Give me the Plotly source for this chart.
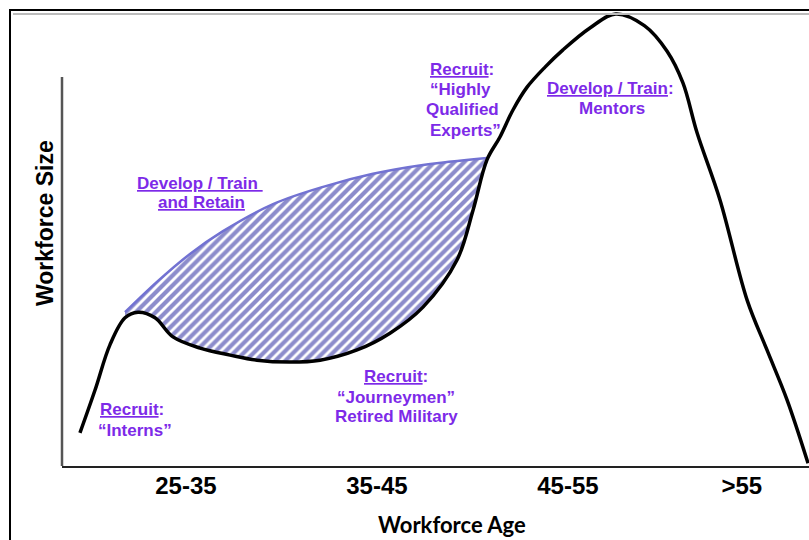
import plotly.graph_objects as go

# ---- data (age on x, relative workforce size on y) ----
curve_age = [24.45, 25.24, 26.02, 26.81, 27.49, 28.38, 29.32, 30.74, 32.31, 33.72, 35.45, 37.02,
             38.96, 40.68, 42.41, 44.19, 45.03, 45.76, 46.44, 47.12, 47.86, 48.80, 49.74, 51.15,
             52.50, 54.00, 55.19, 56.02, 56.76, 57.96, 59.38, 60.42, 61.47, 62.57]
curve_size = [7.1, 16.3, 26.0, 31.8, 33.0, 31.8, 27.7, 25.3, 23.8, 22.7, 22.3, 22.7,
              24.9, 28.5, 34.1, 44.2, 54.9, 65.7, 70.6, 76.4, 81.3, 85.6, 89.3, 94.0,
              97.0, 94.5, 89.0, 82.2, 71.5, 57.1, 35.6, 24.9, 14.2, 0.6]

gap_low_age = [26.81, 27.49, 28.38, 29.32, 30.74, 32.31, 33.72, 35.45, 37.02, 38.96, 40.68,
               42.41, 44.19, 45.03, 45.76]
gap_low_size = [31.8, 33.0, 31.8, 27.7, 25.3, 23.8, 22.7, 22.3, 22.7, 24.9, 28.5,
                34.1, 44.2, 54.9, 65.7]
gap_high_age = [26.81, 28.48, 30.21, 31.94, 34.56, 37.18, 39.79, 42.41, 45.76]
gap_high_size = [33.0, 39.5, 45.5, 50.4, 56.2, 59.9, 62.7, 64.6, 66.1]

tick_vals = [30, 40, 50, 59.1]
tick_text = ["25-35", "35-45", "45-55", ">55"]

PURPLE = "#7d2ae8"
notes = [
    # (text, age, size)
    ("<u>Recruit</u>:", 27.17, 12.2),
    ("\u201cInterns\u201d", 27.33, 7.7),
    ("<u>Develop / Train\u00a0</u>", 30.76, 60.7),
    ("<u>and Retain</u>", 30.81, 56.6),
    ("<u>Recruit</u>:", 41.00, 19.1),
    ("\u201cJourneymen\u201d", 41.00, 14.8),
    ("Retired Military", 41.00, 10.6),
    ("<u>Recruit</u>:", 44.45, 85.0),
    ("\u201cHighly", 44.35, 80.9),
    ("Qualified", 44.48, 76.4),
    ("Experts\u201d", 44.61, 72.1),
    ("<u>Develop / Train</u>:", 52.23, 81.1),
    ("Mentors", 52.28, 76.8),
]

fig = go.Figure()

# lower boundary of hatched gap (invisible)
fig.add_trace(go.Scatter(x=gap_low_age, y=gap_low_size, mode="lines",
                         line=dict(width=0, shape="spline", smoothing=1.0),
                         hoverinfo="skip", showlegend=False))
# upper boundary with hatch fill
fig.add_trace(go.Scatter(x=gap_high_age, y=gap_high_size, mode="lines", fill="tonexty",
                         line=dict(color="#7272d2", width=2.5, shape="spline", smoothing=1.0),
                         fillcolor="white",
                         fillpattern=dict(shape="/", fgcolor="#1a1a98", bgcolor="white",
                                          size=7, solidity=0.6),
                         hoverinfo="skip", showlegend=False))
# main workforce curve
fig.add_trace(go.Scatter(x=curve_age, y=curve_size, mode="lines",
                         line=dict(color="black", width=3.5, shape="spline", smoothing=1.0),
                         hoverinfo="skip", showlegend=False))

for txt, ax_, ay_ in notes:
    fig.add_annotation(x=ax_, y=ay_, xref="x", yref="y", text=txt, showarrow=False,
                       xanchor="center", yanchor="middle",
                       font=dict(family="Liberation Sans", size=17, color=PURPLE, weight="bold"))

# axis titles
fig.add_annotation(x=(452 - 62) / 747, y=(466 - 524) / 466, xref="paper", yref="paper",
                   text="Workforce Age", showarrow=False, xanchor="center", yanchor="middle",
                   font=dict(family="Lato", size=22, color="black", weight="bold"))
fig.add_annotation(x=(45 - 62) / 747, y=(466 - 223) / 466, xref="paper", yref="paper",
                   text="Workforce Size", showarrow=False, textangle=-90,
                   xanchor="center", yanchor="middle",
                   font=dict(family="Liberation Sans", size=23, color="black", weight="bold"))

shapes = [
    # y axis line (short)
    dict(type="line", xref="paper", yref="y", x0=0, x1=0, y0=0, y1=83.5,
         line=dict(color="#555555", width=2.5)),
    # slide frame
    dict(type="line", xref="paper", yref="paper", x0=(10 - 62) / 747, x1=(10 - 62) / 747,
         y0=(466 - 10) / 466, y1=(466 - 545) / 466, line=dict(color="black", width=2)),
    dict(type="line", xref="paper", yref="paper", x0=(9 - 62) / 747, x1=(815 - 62) / 747,
         y0=(466 - 10) / 466, y1=(466 - 10) / 466, line=dict(color="black", width=2)),
    dict(type="line", xref="paper", yref="paper", x0=(13 - 62) / 747, x1=(815 - 62) / 747,
         y0=(466 - 14) / 466, y1=(466 - 14) / 466, line=dict(color="#bbbbbb", width=2)),
]

fig.update_layout(
    width=809, height=540, autosize=False,
    margin=dict(l=62, r=0, t=0, b=74),
    paper_bgcolor="white", plot_bgcolor="white",
    showlegend=False, shapes=shapes,
    xaxis=dict(range=[23.51, 62.62], showgrid=False, zeroline=False,
               showline=True, linecolor="#222222", linewidth=2,
               tickvals=tick_vals, ticktext=tick_text, ticks="",
               tickfont=dict(family="Liberation Sans", size=24, color="black", weight="bold"),
               ticklabelstandoff=-3),
    yaxis=dict(range=[0, 100], showgrid=False, zeroline=False, showline=False,
               showticklabels=False, ticks=""),
)

fig.write_html("out.html", config={"displayModeBar": False},
               post_script="document.body.style.margin='0';document.body.style.overflow='hidden';")
